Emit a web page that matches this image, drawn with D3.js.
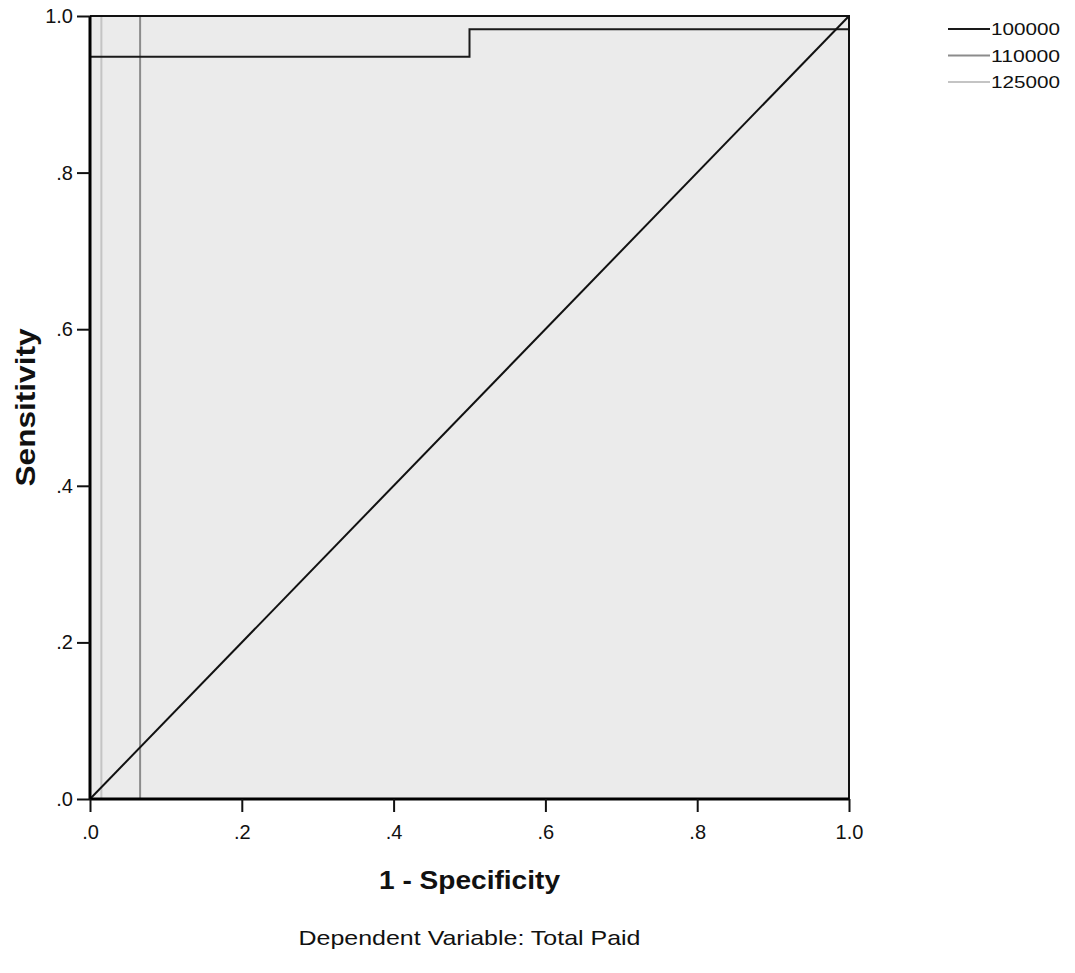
<!DOCTYPE html>
<html>
<head>
<meta charset="utf-8">
<script src="https://cdn.jsdelivr.net/npm/d3@7"></script>
<style>
  body { margin: 0; background: #fff; }
  text { font-family: "Liberation Sans", Arial, sans-serif; fill: #111; }
</style>
</head>
<body>
<svg></svg>
<script>
var width = 1075;
var height = 973;

// ROC curves, one per cutoff of Total Paid
var seriesNames = ['100000', '110000', '125000'];
var seriesColors = ['#1a1a1a', '#8c8c8c', '#c4c4c4'];
var fpr100000 = [0, 0, 0.5, 0.5, 1, 1];
var tpr100000 = [0, 0.948, 0.948, 0.983, 0.983, 1];
var fpr110000 = [0, 0.066, 0.066, 1];
var tpr110000 = [0, 0, 1, 1];
var fpr125000 = [0, 0.015, 0.015, 1];
var tpr125000 = [0, 0, 1, 1];
var refLine = [0, 1];
var tickValues = [0, 0.2, 0.4, 0.6, 0.8, 1.0];
var tickLabels = ['.0', '.2', '.4', '.6', '.8', '1.0'];

var curves = [
  { name: seriesNames[0], x: fpr100000, y: tpr100000, color: seriesColors[0] },
  { name: seriesNames[1], x: fpr110000, y: tpr110000, color: seriesColors[1] },
  { name: seriesNames[2], x: fpr125000, y: tpr125000, color: seriesColors[2] }
];

var margin = { left: 90, right: 226, top: 16, bottom: 174 };

var svg = d3.select('svg')
  .attr('width', width)
  .attr('height', height);

var x = d3.scaleLinear().domain([0, 1]).range([margin.left, width - margin.right]);
var y = d3.scaleLinear().domain([0, 1]).range([height - margin.bottom, margin.top]);

// plot background
svg.append('rect')
  .attr('x', x(0))
  .attr('y', y(1))
  .attr('width', x(1) - x(0))
  .attr('height', y(0) - y(1))
  .attr('fill', '#ebebeb');

var line = d3.line()
  .x(d => x(d[0]))
  .y(d => y(d[1]));

// draw grey curves first, black on top
curves.slice().reverse().forEach(function(c) {
  svg.append('path')
    .datum(d3.zip(c.x, c.y))
    .attr('d', line)
    .attr('fill', 'none')
    .attr('stroke', c.color)
    .attr('stroke-width', 2);
});

// reference diagonal
svg.append('path')
  .datum(d3.zip(refLine, refLine))
  .attr('d', line)
  .attr('fill', 'none')
  .attr('stroke', '#111')
  .attr('stroke-width', 2);

// frame top and right
svg.append('path')
  .attr('d', 'M' + x(0) + ',' + y(1) + 'H' + x(1) + 'V' + y(0))
  .attr('fill', 'none')
  .attr('stroke', '#111')
  .attr('stroke-width', 2);

// axes
var xAxis = d3.axisBottom(x)
  .tickValues(tickValues)
  .tickSize(13)
  .tickPadding(13)
  .tickFormat((d, i) => tickLabels[i]);
var yAxis = d3.axisLeft(y)
  .tickValues(tickValues)
  .tickSize(13)
  .tickPadding(4)
  .tickFormat((d, i) => tickLabels[i]);

var gx = svg.append('g')
  .attr('transform', 'translate(0,' + y(0) + ')')
  .call(xAxis);
var gy = svg.append('g')
  .attr('transform', 'translate(' + x(0) + ',0)')
  .call(yAxis);

[gx, gy].forEach(function(g) {
  g.select('.domain').attr('stroke', '#000').attr('stroke-width', 3);
  g.selectAll('.tick line').attr('stroke', '#111').attr('stroke-width', 2);
  g.selectAll('.tick text')
    .attr('font-family', '"Liberation Sans", Arial, sans-serif')
    .attr('font-size', 20)
    .attr('fill', '#111');
});
// outer tick stubs are not drawn by the reference
gx.select('.domain').attr('d', 'M' + x(0) + ',0H' + x(1));
gy.select('.domain').attr('d', 'M0,' + y(0) + 'V' + y(1));

// axis titles
svg.append('text')
  .attr('x', (x(0) + x(1)) / 2)
  .attr('y', 889)
  .attr('text-anchor', 'middle')
  .attr('font-size', 26)
  .attr('font-weight', 'bold')
  .attr('textLength', 181)
  .attr('lengthAdjust', 'spacingAndGlyphs')
  .text('1 - Specificity');

svg.append('text')
  .attr('transform', 'translate(35,' + (y(0) + y(1)) / 2 + ') rotate(-90)')
  .attr('text-anchor', 'middle')
  .attr('font-size', 28)
  .attr('font-weight', 'bold')
  .attr('textLength', 158)
  .attr('lengthAdjust', 'spacingAndGlyphs')
  .text('Sensitivity');

svg.append('text')
  .attr('x', (x(0) + x(1)) / 2)
  .attr('y', 945)
  .attr('text-anchor', 'middle')
  .attr('font-size', 21)
  .attr('textLength', 342)
  .attr('lengthAdjust', 'spacingAndGlyphs')
  .text('Dependent Variable: Total Paid');

// legend
var legend = svg.append('g')
  .attr('font-size', 17);
curves.forEach(function(c, i) {
  var ly = 29 + i * 26.5;
  legend.append('line')
    .attr('x1', 948)
    .attr('x2', 990)
    .attr('y1', ly)
    .attr('y2', ly)
    .attr('stroke', c.color)
    .attr('stroke-width', 2);
  legend.append('text')
    .attr('x', 991)
    .attr('y', ly + 6)
    .attr('textLength', 69)
    .attr('lengthAdjust', 'spacingAndGlyphs')
    .text(c.name);
});
</script>
</body>
</html>
